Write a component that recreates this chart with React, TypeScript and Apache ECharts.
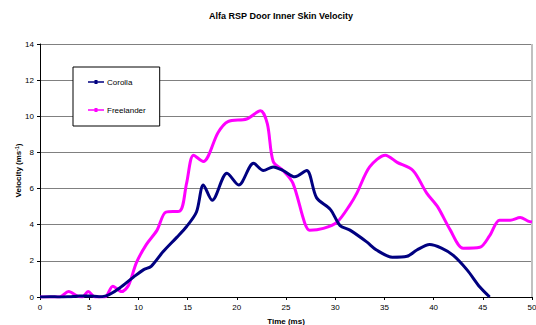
import React, { useEffect, useRef } from "react";
import * as echarts from "echarts";

const corollaTime = [0, 1, 2, 3, 4, 5, 6, 6.6, 7.1, 8.1, 9.5, 10.5, 11.3, 12.5, 13.9, 14.9, 15.9, 16.6, 17.5, 19, 20.2, 21.7, 22.7, 23.7, 24.7, 25.9, 27.1, 28.1, 29.5, 30.5, 31.5, 33.2, 34.2, 35.8, 37.3, 38.3, 39.6, 40.8, 42, 43.4, 44.7, 45.7];
const corollaVel = [0, 0.02, 0, 0.02, 0.05, 0.05, 0.02, 0.05, 0.15, 0.5, 1.1, 1.5, 1.7, 2.5, 3.3, 3.9, 4.7, 6.2, 5.35, 6.85, 6.2, 7.4, 7.0, 7.2, 7.0, 6.65, 7.0, 5.5, 4.85, 3.95, 3.7, 3.05, 2.6, 2.2, 2.25, 2.6, 2.9, 2.7, 2.3, 1.5, 0.55, 0];

const freelanderTime = [0, 2, 2.9, 3.8, 4.3, 4.9, 5.6, 6.6, 7.4, 8.3, 9, 9.8, 10.8, 11.9, 12.8, 14.2, 14.9, 15.6, 16.6, 18.1, 19.1, 21, 22.4, 23.1, 23.7, 24.7, 25.7, 26.9, 27.4, 28.8, 30.2, 31.5, 32.2, 33.5, 35.1, 36.3, 37.9, 39.3, 40.4, 41.7, 43, 44.7, 45.7, 46.7, 47.8, 48.8, 49.6, 50];
const freelanderVel = [0, 0, 0.3, 0.05, 0, 0.3, 0, 0, 0.6, 0.3, 0.65, 1.9, 2.9, 3.7, 4.7, 4.75, 6.3, 7.85, 7.5, 9.1, 9.7, 9.85, 10.3, 9.6, 7.5, 7.0, 6.3, 4.1, 3.7, 3.8, 4.15, 5.1, 5.75, 7.2, 7.85, 7.45, 7.0, 5.75, 5.0, 3.7, 2.7, 2.75, 3.4, 4.25, 4.25, 4.4, 4.2, 4.15];

const seriesNames = ["Corolla", "Freelander"];
const seriesColors = ["#000080", "#FF00FF"];

const zip = (xs: number[], ys: number[]) => xs.map((x, i) => [x, ys[i]]);

const legendIcon = "path://M0,1.2h16v1.6H0z M6.5,0h3v4h-3z";

export default function App() {
  const ref = useRef<HTMLDivElement>(null);
  useEffect(() => {
    if (!ref.current) return;
    const chart = echarts.init(ref.current, undefined, { renderer: "svg" });
    chart.setOption({
      animation: false,
      backgroundColor: "#ffffff",
      title: {
        text: "Alfa RSP Door Inner Skin Velocity",
        left: 276,
        top: 6,
        textAlign: "center",
        textStyle: { fontFamily: "Liberation Sans", fontSize: 9, fontWeight: "bold", color: "#000" },
      },
      grid: { left: 40, right: 4, top: 44, bottom: 28, outerBoundsMode: "none", containLabel: false },
      legend: {
        orient: "vertical",
        left: 73,
        top: 67,
        padding: [11, 14, 12, 15],
        itemGap: 20,
        itemWidth: 16,
        itemHeight: 4,
        backgroundColor: "#ffffff",
        borderColor: "#000",
        borderWidth: 1,
        textStyle: { fontFamily: "Liberation Sans", fontSize: 8, color: "#000", padding: [0, 0, 0, -2] },
        data: seriesNames.map((n, i) => ({ name: n, icon: legendIcon, itemStyle: { color: seriesColors[i] } })),
      },
      xAxis: {
        type: "value",
        min: 0,
        max: 50,
        interval: 5,
        name: "Time (ms)",
        nameLocation: "middle",
        nameGap: 20,
        nameTextStyle: { fontFamily: "Liberation Sans", fontSize: 8, fontWeight: "bold", color: "#000" },
        axisLine: { lineStyle: { color: "#000", width: 1 } },
        axisTick: { show: true, length: 3, lineStyle: { color: "#000" } },
        axisLabel: { fontFamily: "Liberation Sans", fontSize: 8, color: "#000", margin: 6 },
        splitLine: { show: false },
      },
      yAxis: {
        type: "value",
        min: 0,
        max: 14,
        interval: 2,
        name: "Velocity (ms{sup|-1})",
        nameLocation: "middle",
        nameGap: 17,
        nameRotate: 90,
        nameMoveOverlap: false,
        nameTextStyle: {
          fontFamily: "Liberation Sans",
          fontSize: 8,
          fontWeight: "bold",
          color: "#000",
          rich: {
            sup: { fontFamily: "Liberation Sans", fontSize: 5, fontWeight: "bold", color: "#000", verticalAlign: "top", padding: [0, 0, 4, 0] },
          },
        },
        axisLine: { show: true, lineStyle: { color: "#000", width: 1 } },
        axisTick: { show: true, length: 3, lineStyle: { color: "#000" } },
        axisLabel: { fontFamily: "Liberation Sans", fontSize: 8, color: "#000", margin: 6 },
        splitLine: { show: true, lineStyle: { color: "#808080", width: 1 } },
      },
      graphic: [
        { type: "line", shape: { x1: 532, y1: 44, x2: 532, y2: 297 }, style: { stroke: "#c0c0c0", lineWidth: 2 }, z: 1 },
      ],
      series: [
        {
          name: seriesNames[0],
          type: "line",
          data: zip(corollaTime, corollaVel),
          smooth: 0.3,
          showSymbol: false,
          lineStyle: { color: seriesColors[0], width: 3 },
          itemStyle: { color: seriesColors[0] },
          z: 3,
        },
        {
          name: seriesNames[1],
          type: "line",
          data: zip(freelanderTime, freelanderVel),
          smooth: 0.3,
          showSymbol: false,
          lineStyle: { color: seriesColors[1], width: 3 },
          itemStyle: { color: seriesColors[1] },
          z: 2,
        },
      ],
    });
    return () => chart.dispose();
  }, []);
  return <div ref={ref} style={{ width: 536, height: 325, position: "absolute", left: 0, top: 0 }} />;
}
